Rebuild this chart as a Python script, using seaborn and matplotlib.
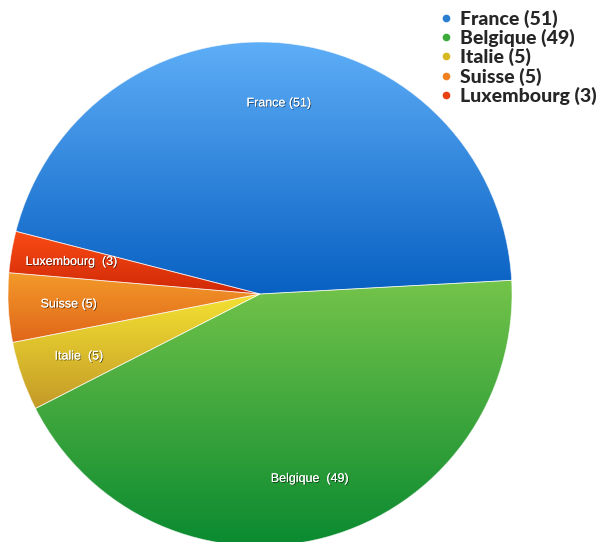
import numpy as np
import matplotlib
matplotlib.use("Agg")
import matplotlib.pyplot as plt
import matplotlib.patheffects as pe
from matplotlib.colors import LinearSegmentedColormap
from matplotlib.lines import Line2D
import seaborn as sns

# data
countries = ["France", "Belgique", "Italie", "Suisse", "Luxembourg"]
counts = [51, 49, 5, 5, 3]
slice_labels = ["France (51)", "Belgique  (49)", "Italie  (5)", "Suisse (5)", "Luxembourg  (3)"]
legend_labels = ["France (51)", "Belgique (49)", "Italie (5)", "Suisse (5)", "Luxembourg (3)"]

# gradient colours (top, bottom) and legend dot colours
grad_colors = [("#5eaef7", "#0860c2"),
               ("#74c44a", "#0a8a30"),
               ("#f4e232", "#c49a28"),
               ("#f39a2a", "#e0661a"),
               ("#fa4c14", "#d02808")]
dot_colors = ["#2a7fd0", "#3aaa3a", "#d8b820", "#f08020", "#e84010"]

sns.set_theme(style="white")
plt.rcParams['font.family'] = ['Liberation Sans', 'DejaVu Sans']

fig = plt.figure(figsize=(6.03, 5.42), dpi=100)
ax = fig.add_axes([8/603, -4/542, 504/603, 504/542])

wedges, texts = ax.pie(counts, labels=slice_labels, startangle=165.6,
                       counterclock=False, labeldistance=0.76,
                       wedgeprops=dict(edgecolor=(1, 1, 1, 0.6), linewidth=0.6),
                       textprops=dict(color="white", fontsize=9))

for w, (c_top, c_bot) in zip(wedges, grad_colors):
    w.set_facecolor("none")
    bb = w.get_path().get_extents()
    cmap = LinearSegmentedColormap.from_list("g", [c_bot, c_top])
    grad = np.linspace(0, 1, 256).reshape(-1, 1)
    im = ax.imshow(grad, extent=[bb.x0, bb.x1, bb.y0, bb.y1], origin="lower",
                   cmap=cmap, aspect="auto", zorder=0.5)
    im.set_clip_path(w)

for t in texts:
    t.set_ha("center")
    t.set_va("center")
    t.set_zorder(5)
    t.set_path_effects([pe.withSimplePatchShadow(offset=(0.6, -0.6), shadow_rgbFace="black", alpha=0.6),
                        pe.Normal()])

ax.set_xlim(-1, 1)
ax.set_ylim(-1, 1)
ax.set_aspect("equal")
ax.axis("off")

handles = [Line2D([0], [0], marker="o", color="w", markerfacecolor=c,
                  markeredgecolor=c, markersize=4.5, linestyle="none") for c in dot_colors]
fig.legend(handles, legend_labels, loc="upper left", bbox_to_anchor=(428/603, 1 - 2/542),
           frameon=False, handletextpad=0.25, labelspacing=0.055, borderaxespad=0,
           prop=dict(family="Lato", weight="black", size=14), handlelength=1.0)

fig.savefig("out.png", dpi=100)
